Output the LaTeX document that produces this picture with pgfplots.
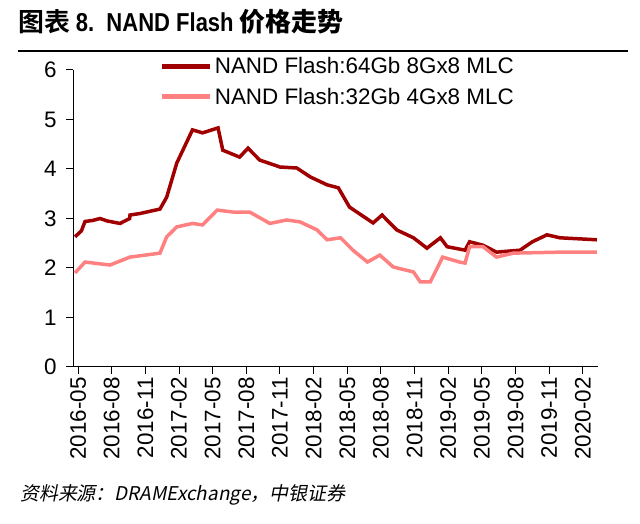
\documentclass[border=0pt]{standalone}
\usepackage{pgfplots}
\pgfplotsset{compat=1.18}
\usepackage{fontspec}
\setmainfont{Liberation Sans}
\newfontfamily\narrow[FakeStretch=0.85]{Liberation Sans}
\newfontfamily\cjk{Noto Sans CJK SC}
\newfontfamily\cjkb{Noto Sans CJK SC Bold}
\newfontfamily\cjki[FakeSlant=0.2]{Noto Sans CJK SC}
\definecolor{dred}{RGB}{160,0,0}
\definecolor{lred}{RGB}{255,128,128}
\begin{document}
\begin{tikzpicture}[x=1bp,y=1bp]
\path (0,0) rectangle (640,524);
\node[anchor=west,font=\fontsize{26}{30}\selectfont,inner sep=0pt] at (18,502) {\cjkb 图表 \narrow\bfseries 8.\ \ NAND Flash \cjkb 价格走势};
\draw[line width=1.2bp] (18,473) -- (628,473);
\node[anchor=west,font=\fontsize{19}{21}\selectfont,inner sep=0pt] at (20,29) {\cjki 资料来源：\itshape DRAMExchange，中银证券};
\begin{axis}[at={(73bp,157bp)},anchor=south west,scale only axis,
  width=525bp,height=297bp,
  xmin=-0.45,xmax=46.35,ymin=0,ymax=6,
  axis x line*=bottom, axis y line*=left,
  axis line style={line width=1bp,-},
  tick style={line width=1bp,black},
  tick align=outside, major tick length=7bp,
  ytick={0,1,...,6},
  xtick={0,3,...,45},
  xticklabels={2016-05,2016-08,2016-11,2017-02,2017-05,2017-08,2017-11,2018-02,2018-05,2018-08,2018-11,2019-02,2019-05,2019-08,2019-11,2020-02},
  x tick label style={rotate=90,anchor=east},
  tick label style={font=\fontsize{22.5}{26}\selectfont},
  yticklabel style={xshift=-6bp},
  /pgf/number format/assume math mode=true,
  legend style={draw=none,fill=none,at={(0.165,1.05)},anchor=north west,font=\fontsize{22.5}{26}\selectfont,row sep=9bp,inner sep=0pt},
  legend cell align=left,
  legend image code/.code={\draw[#1,line width=5bp] (0,0) -- (48bp,0);},
]
\addplot[dred,line width=3.5bp] coordinates {
(-0.27,2.63)(0.3,2.75)(0.62,2.94)(1.3,2.96)(1.96,3.0)(2.6,2.95)(3.74,2.9)(4.6,3.0)(4.63,3.07)(5.5,3.1)(7.3,3.19)(7.9,3.43)(8.8,4.12)(10.2,4.79)(11.1,4.73)(12.48,4.83)(12.9,4.38)(14.4,4.24)(15.15,4.42)(16.2,4.18)(18.0,4.04)(19.5,4.02)(20.7,3.84)(22.2,3.68)(23.2,3.62)(24.2,3.23)(26.3,2.91)(27.1,3.07)(28.4,2.77)(29.9,2.61)(31.1,2.4)(32.3,2.61)(32.9,2.43)(34.5,2.36)(34.9,2.53)(36.1,2.46)(37.3,2.32)(39.4,2.36)(40.5,2.53)(41.8,2.67)(42.95,2.61)(46.25,2.57)};
\addlegendentry{NAND Flash:64Gb 8Gx8 MLC}
\addplot[lred,line width=3.5bp] coordinates {
(-0.27,1.9)(0.62,2.12)(2.85,2.06)(4.63,2.22)(7.3,2.30)(7.9,2.63)(8.8,2.83)(10.2,2.9)(11.1,2.87)(12.4,3.17)(13.8,3.13)(15.3,3.13)(17.1,2.9)(18.6,2.97)(19.8,2.93)(21.3,2.77)(22.2,2.57)(23.4,2.61)(24.5,2.36)(25.8,2.12)(26.9,2.26)(28.1,2.02)(29.9,1.92)(30.5,1.72)(31.4,1.72)(32.5,2.22)(34.0,2.12)(34.5,2.1)(34.9,2.43)(36.1,2.43)(37.3,2.22)(38.8,2.3)(42.95,2.32)(46.25,2.32)};
\addlegendentry{NAND Flash:32Gb 4Gx8 MLC}
\end{axis}
\end{tikzpicture}
\end{document}
